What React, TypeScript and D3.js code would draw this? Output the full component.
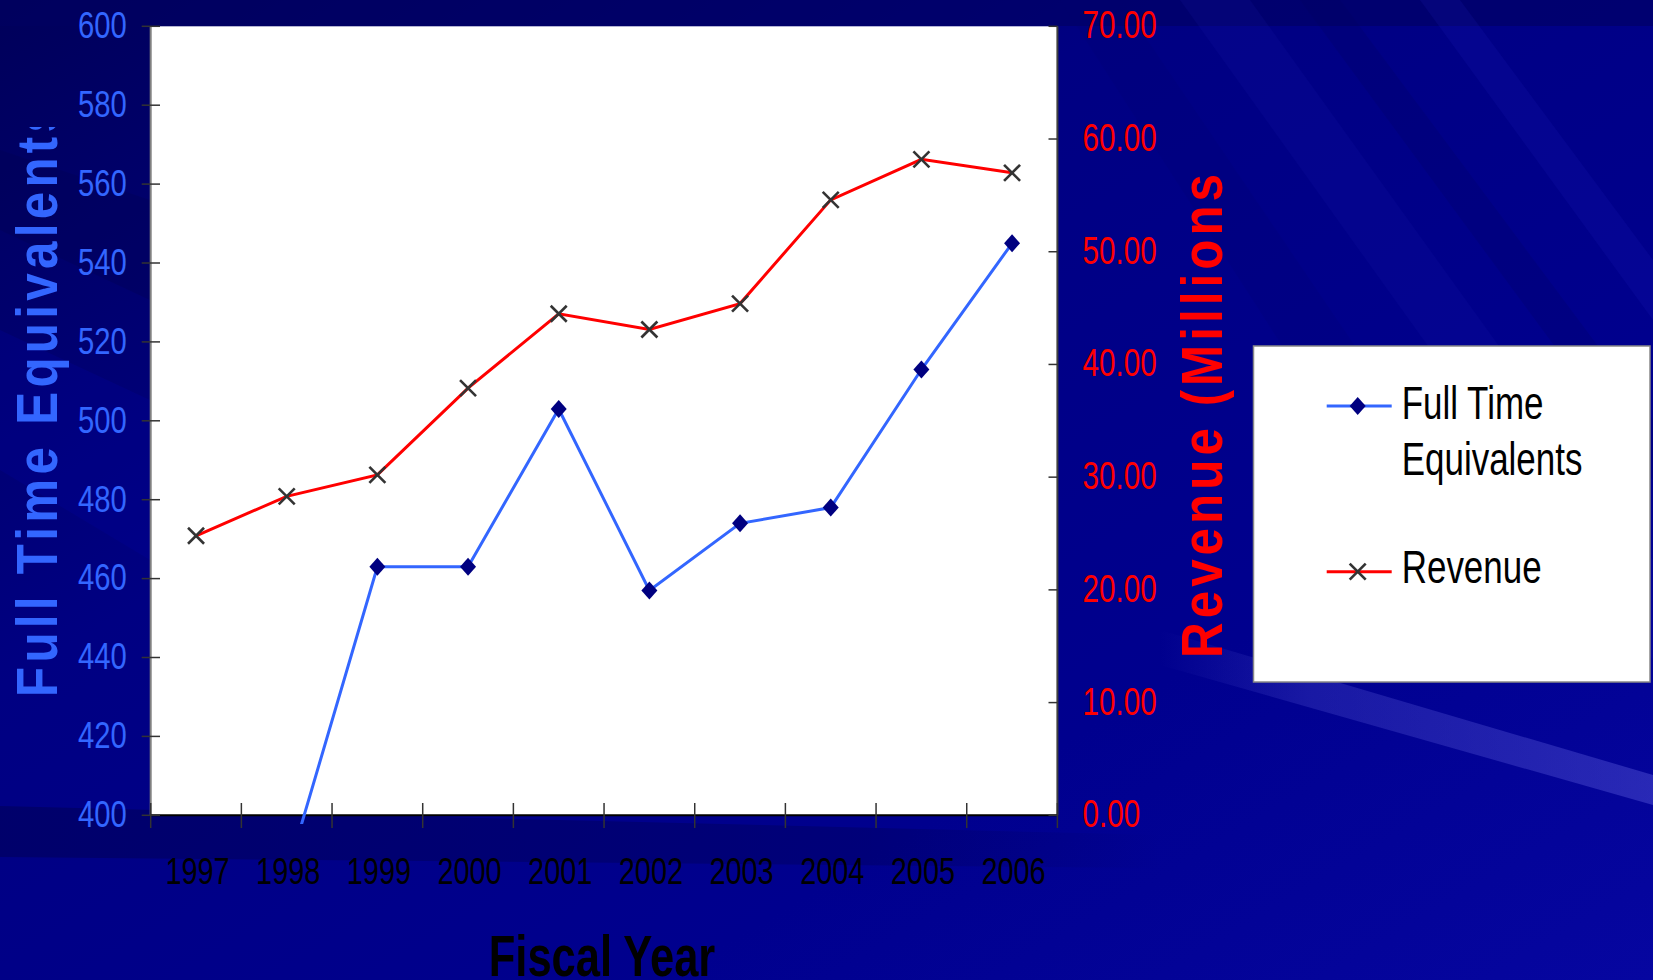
import React from "react";
import * as d3 from "d3";

const years = ["1997", "1998", "1999", "2000", "2001", "2002", "2003", "2004", "2005", "2006"];
const fte: (number | null)[] = [null, 385, 463, 463, 503, 457, 474, 478, 513, 545];
const revenue: number[] = [24.8, 28.3, 30.2, 37.9, 44.5, 43.1, 45.4, 54.6, 58.2, 57.0];
const leftTicks = [400, 420, 440, 460, 480, 500, 520, 540, 560, 580, 600];
const rightTicks = [0, 10, 20, 30, 40, 50, 60, 70];

const W = 1653;
const H = 980;
const PL = 150.7, PR = 1057.4, PT = 26.3, PB = 815.3;

const x = d3.scaleBand<string>().domain(years).range([PL, PR]);
const yL = d3.scaleLinear().domain([400, 600]).range([PB, PT]);
const yR = d3.scaleLinear().domain([0, 70]).range([PB, PT]);

const BLUE = "#3366FF";
const NAVY = "#000080";
const RED = "#FF0000";
const FONT = "'Liberation Sans', Arial, sans-serif";

export default function App() {
  const cx = (i: number) => (x(years[i]) as number) + x.bandwidth() / 2;
  const fteLine = d3
    .line<number | null>()
    .defined((d) => d != null)
    .x((_, i) => cx(i))
    .y((d) => yL(d as number))(fte) as string;
  const revLine = d3
    .line<number>()
    .x((_, i) => cx(i))
    .y((d) => yR(d))(revenue) as string;

  const boundaries = d3.range(years.length + 1).map((i) => PL + i * x.step());

  return (
    <div style={{ position: "absolute", left: 0, top: 0 }}>
      <svg width={W} height={H} viewBox={`0 0 ${W} ${H}`} style={{ display: "block" }}>
        <defs>
          <linearGradient id="bg" x1="0" y1="0" x2="1" y2="1">
            <stop offset="0" stopColor="#00005A" />
            <stop offset="0.35" stopColor="#000082" />
            <stop offset="0.7" stopColor="#00008E" />
            <stop offset="1" stopColor="#0606A0" />
          </linearGradient>
          <linearGradient id="streak" x1="0" y1="0" x2="1" y2="0">
            <stop offset="0" stopColor="#5050D0" stopOpacity="0" />
            <stop offset="0.3" stopColor="#5050D0" stopOpacity="0.3" />
            <stop offset="1" stopColor="#6060E0" stopOpacity="0.4" />
          </linearGradient>
          <linearGradient id="darkband" x1="0" y1="0" x2="1" y2="0">
            <stop offset="0" stopColor="#000060" stopOpacity="0.7" />
            <stop offset="0.75" stopColor="#000060" stopOpacity="0.45" />
            <stop offset="1" stopColor="#000060" stopOpacity="0" />
          </linearGradient>
          <clipPath id="plotClip">
            <rect x={PL} y={PT} width={PR - PL} height={824 - PT} />
          </clipPath>
          <clipPath id="leftTitleClip">
            <rect x={0} y={127} width={120} height={800} />
          </clipPath>
        </defs>

        {/* background */}
        <rect x={0} y={0} width={W} height={H} fill="url(#bg)" />
        <rect x={0} y={0} width={W} height={26} fill="#000060" opacity={0.6} />
        {/* diagonal streaks upper right */}
        <polygon points="1180,0 1250,0 1653,560 1653,660" fill="#1a1ab0" opacity={0.14} />
        <polygon points="1300,0 1340,0 1653,420 1653,480" fill="#000060" opacity={0.22} />
        <polygon points="1420,0 1460,0 1653,260 1653,320" fill="#2020c0" opacity={0.15} />
        <polygon points="1060,0 1120,0 1500,560 1420,560" fill="#000070" opacity={0.18} />
        <polygon points="0,150 150,200 150,300 0,230" fill="#000050" opacity={0.3} />
        <polygon points="0,330 150,400 150,560 0,470" fill="#0000a0" opacity={0.25} />
        {/* light streak lower right */}
        <polygon points="1160,630 1653,775 1653,805 1160,665" fill="url(#streak)" />
        {/* dark band behind x axis */}
        <polygon points="0,806 1160,835 1160,868 0,857" fill="url(#darkband)" />

        {/* plot area */}
        <rect x={PL} y={PT} width={PR - PL} height={PB - PT} fill="#FFFFFF" />

        {/* axes */}
        <line x1={PL} y1={PT} x2={PL} y2={PB} stroke="#808080" strokeWidth={2} />
        <line x1={PR} y1={PT} x2={PR} y2={PB} stroke="#404040" strokeWidth={2} />
        <line x1={PL} y1={PB} x2={PR} y2={PB} stroke="#000000" strokeWidth={2} />
        {leftTicks.map((t) => (
          <line key={"lt" + t} x1={141.7} x2={160} y1={yL(t)} y2={yL(t)} stroke="#333" strokeWidth={1.5} />
        ))}
        {rightTicks.map((t) => (
          <line key={"rt" + t} x1={1048.5} x2={PR} y1={yR(t)} y2={yR(t)} stroke="#333" strokeWidth={1.5} />
        ))}
        {boundaries.map((b, i) => (
          <line key={"bt" + i} x1={b} x2={b} y1={803} y2={828} stroke="#333" strokeWidth={1.5} />
        ))}

        {/* tick labels */}
        {leftTicks.map((t) => (
          <text
            key={"ll" + t}
            transform={`translate(126.7,${yL(t) + 11.8}) scale(0.78,1)`}
            textAnchor="end"
            fontFamily={FONT}
            fontSize={37.5}
            fill={BLUE}
          >
            {t}
          </text>
        ))}
        {rightTicks.map((t) => (
          <text
            key={"rl" + t}
            transform={`translate(1082.5,${yR(t) + 12}) scale(0.77,1)`}
            textAnchor="start"
            fontFamily={FONT}
            fontSize={38.5}
            fill={RED}
          >
            {t.toFixed(2)}
          </text>
        ))}
        {years.map((yr, i) => (
          <text
            key={"xl" + yr}
            transform={`translate(${cx(i) + 1.5},884) scale(0.77,1)`}
            textAnchor="middle"
            fontFamily={FONT}
            fontSize={37.5}
            fill="#000"
          >
            {yr}
          </text>
        ))}

        {/* axis titles */}
        <g clipPath="url(#leftTitleClip)">
          <text
            transform="translate(57,697) rotate(-90) scale(0.85,1)"
            fontFamily={FONT}
            fontWeight="bold"
            fontSize={58}
            fill={BLUE}
            textLength={592 / 0.85}
            lengthAdjust="spacing"
          >
            Full Time Equivalents
          </text>
        </g>
        <text
          transform="translate(1222,658) rotate(-90) scale(0.85,1)"
          fontFamily={FONT}
          fontWeight="bold"
          fontSize={58}
          fill={RED}
          textLength={484 / 0.85}
          lengthAdjust="spacing"
        >
          Revenue (Millions
        </text>
        <text
          transform="translate(602,976) scale(0.75,1)"
          textAnchor="middle"
          fontFamily={FONT}
          fontWeight="bold"
          fontSize={58}
          fill="#000"
        >
          Fiscal Year
        </text>

        {/* series */}
        <g clipPath="url(#plotClip)">
          <path d={fteLine} fill="none" stroke={BLUE} strokeWidth={3} />
          <path d={revLine} fill="none" stroke={RED} strokeWidth={3} />
          {fte.map((v, i) =>
            v == null ? null : (
              <path
                key={"fm" + i}
                transform={`translate(${cx(i)},${yL(v)})`}
                d="M0,-9 L8,0 L0,9 L-8,0Z"
                fill={NAVY}
              />
            )
          )}
          {revenue.map((v, i) => (
            <g key={"rm" + i} transform={`translate(${cx(i)},${yR(v)})`} stroke="#333" strokeWidth={2.6}>
              <line x1={-8} y1={-8} x2={8} y2={8} />
              <line x1={-8} y1={8} x2={8} y2={-8} />
            </g>
          ))}
        </g>

        {/* legend */}
        <rect x={1253.5} y={346} width={396.5} height={336} fill="#FFFFFF" stroke="#888" strokeWidth={1.5} />
        <line x1={1326.7} x2={1391.7} y1={406} y2={406} stroke={BLUE} strokeWidth={3} />
        <path transform="translate(1357.7,406)" d="M0,-9 L8,0 L0,9 L-8,0Z" fill={NAVY} />
        <line x1={1326.7} x2={1391.7} y1={571.7} y2={571.7} stroke={RED} strokeWidth={3} />
        <g transform="translate(1357.7,571.7)" stroke="#333" strokeWidth={2.6}>
          <line x1={-8} y1={-8} x2={8} y2={8} />
          <line x1={-8} y1={8} x2={8} y2={-8} />
        </g>
        <text transform="translate(1401.7,419.3) scale(0.76,1)" fontFamily={FONT} fontSize={46} fill="#000">
          Full Time
        </text>
        <text transform="translate(1401.7,475) scale(0.76,1)" fontFamily={FONT} fontSize={46} fill="#000">
          Equivalents
        </text>
        <text transform="translate(1401.7,583.3) scale(0.76,1)" fontFamily={FONT} fontSize={46} fill="#000">
          Revenue
        </text>
      </svg>
    </div>
  );
}
